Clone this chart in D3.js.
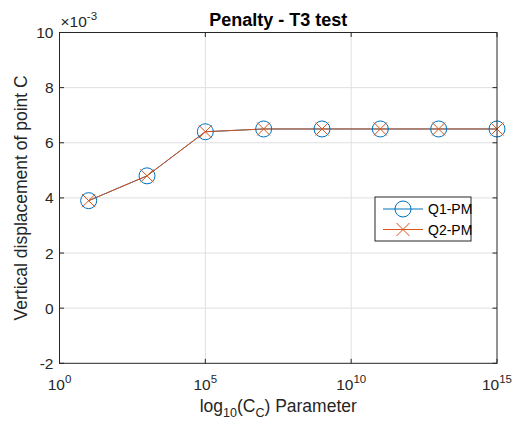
<!DOCTYPE html>
<html>
<head>
<meta charset="utf-8">
<script src="https://cdn.jsdelivr.net/npm/d3@7"></script>
<style>
  body { margin: 0; background: #fff; }
  text { font-family: "Liberation Sans", Arial, Helvetica, sans-serif; }
</style>
</head>
<body>
<div id="chart"></div>
<script>
// data (y values are in units of 1e-3)
const penaltyParams = [1e1, 1e3, 1e5, 1e7, 1e9, 1e11, 1e13, 1e15];
const q1Disp = [3.9, 4.8, 6.4, 6.5, 6.5, 6.5, 6.5, 6.5];
const q2Disp = [3.9, 4.8, 6.4, 6.5, 6.5, 6.5, 6.5, 6.5];
const xTicks = [1e0, 1e5, 1e10, 1e15];
const yTicks = [-2, 0, 2, 4, 6, 8, 10];
const seriesNames = ["Q1-PM", "Q2-PM"];

const width = 519, height = 423;
const margin = { left: 59.5, right: 22, top: 32.5, bottom: 60 };
const blue = "#0072BD", orange = "#D95319", axisColor = "#262626";
const tickFont = 15.5, labelFont = 17.5;

const svg = d3.select("#chart").append("svg")
  .attr("width", width)
  .attr("height", height);

const x = d3.scaleLog().domain([1e0, 1e15]).range([margin.left, width - margin.right]);
const y = d3.scaleLinear().domain([-2, 10]).range([height - margin.bottom + 0.5 - 0.2, margin.top]);

const x0 = x.range()[0], x1 = x.range()[1];
const y0 = y.range()[0], y1 = y.range()[1];

// grid
const grid = svg.append("g").attr("stroke", "#dfdfdf").attr("stroke-width", 1);
grid.selectAll(".gx").data(xTicks.slice(1, -1)).enter().append("line")
  .attr("x1", d => x(d)).attr("x2", d => x(d))
  .attr("y1", y0).attr("y2", y1);
grid.selectAll(".gy").data(yTicks.slice(1, -1)).enter().append("line")
  .attr("x1", x0).attr("x2", x1)
  .attr("y1", d => y(d)).attr("y2", d => y(d));

// series
const line = d3.line().x((d, i) => x(penaltyParams[i])).y(d => y(d));
svg.append("path").datum(q1Disp)
  .attr("fill", "none").attr("stroke", blue).attr("stroke-width", 1).attr("d", line);
svg.append("path").datum(q2Disp)
  .attr("fill", "none").attr("stroke", orange).attr("stroke-width", 1).attr("d", line);

svg.selectAll(".m1").data(q1Disp).enter().append("circle")
  .attr("cx", (d, i) => x(penaltyParams[i]))
  .attr("cy", d => y(d))
  .attr("r", 8)
  .attr("fill", "none").attr("stroke", blue).attr("stroke-width", 1);

function crossPath(cx, cy, s) {
  return `M${cx - s},${cy - s}L${cx + s},${cy + s}M${cx - s},${cy + s}L${cx + s},${cy - s}`;
}
svg.selectAll(".m2").data(q2Disp).enter().append("path")
  .attr("d", (d, i) => crossPath(x(penaltyParams[i]), y(d), 6.5))
  .attr("fill", "none").attr("stroke", orange).attr("stroke-width", 1);

// axes box + ticks
const ax = svg.append("g").attr("stroke", axisColor).attr("stroke-width", 1).attr("fill", "none");
ax.append("rect").attr("x", x0).attr("y", y1).attr("width", x1 - x0).attr("height", y0 - y1);
const tl = 4.5;
xTicks.forEach(t => {
  ax.append("line").attr("x1", x(t)).attr("x2", x(t)).attr("y1", y0).attr("y2", y0 - tl);
  ax.append("line").attr("x1", x(t)).attr("x2", x(t)).attr("y1", y1).attr("y2", y1 + tl);
});
yTicks.forEach(t => {
  ax.append("line").attr("x1", x0).attr("x2", x0 + tl).attr("y1", y(t)).attr("y2", y(t));
  ax.append("line").attr("x1", x1).attr("x2", x1 - tl).attr("y1", y(t)).attr("y2", y(t));
});

// tick labels
svg.selectAll(".yl").data(yTicks).enter().append("text")
  .attr("x", x0 - 6).attr("y", d => y(d)).attr("dy", "0.36em")
  .attr("text-anchor", "end").attr("font-size", tickFont).attr("fill", axisColor)
  .text(d => d);

const xl = svg.selectAll(".xl").data(xTicks).enter().append("text")
  .attr("x", d => x(d)).attr("y", y0 + 27)
  .attr("text-anchor", "middle").attr("font-size", tickFont).attr("fill", axisColor);
xl.append("tspan").text("10");
xl.append("tspan").attr("dy", -7).attr("font-size", 11.5).text(d => Math.round(Math.log10(d)));

// exponent label
const ex = svg.append("text").attr("x", x0 + 1).attr("y", y1 - 6)
  .attr("font-size", tickFont).attr("fill", axisColor);
ex.append("tspan").text("\u00d710");
ex.append("tspan").attr("dy", -7).attr("font-size", 11.5).text("-3");

// title
svg.append("text").attr("x", (x0 + x1) / 2).attr("y", y1 - 7)
  .attr("text-anchor", "middle").attr("font-size", 18).attr("font-weight", "bold")
  .attr("fill", "#000").text("Penalty - T3 test");

// axis labels
const xlab = svg.append("text").attr("x", (x0 + x1) / 2).attr("y", y0 + 48.5)
  .attr("text-anchor", "middle").attr("font-size", labelFont).attr("fill", axisColor);
xlab.append("tspan").text("log");
xlab.append("tspan").attr("dy", 5).attr("font-size", 12.5).text("10");
xlab.append("tspan").attr("dy", -5).text("(C");
xlab.append("tspan").attr("dy", 5).attr("font-size", 12.5).text("C");
xlab.append("tspan").attr("dy", -5).text(") Parameter");

svg.append("text")
  .attr("transform", `translate(27,${(y0 + y1) / 2}) rotate(-90)`)
  .attr("text-anchor", "middle").attr("font-size", labelFont).attr("fill", axisColor)
  .text("Vertical displacement of point C");

// legend
const lg = svg.append("g").attr("transform", "translate(375,197)");
lg.append("rect").attr("width", 96).attr("height", 44)
  .attr("fill", "#fff").attr("stroke", axisColor).attr("stroke-width", 1);
const colors = [blue, orange];
seriesNames.forEach((name, i) => {
  const ly = 12 + i * 20.5;
  lg.append("line").attr("x1", 8).attr("x2", 48).attr("y1", ly).attr("y2", ly)
    .attr("stroke", colors[i]).attr("stroke-width", 1);
  if (i === 0) {
    lg.append("circle").attr("cx", 28).attr("cy", ly).attr("r", 8)
      .attr("fill", "none").attr("stroke", blue).attr("stroke-width", 1);
  } else {
    lg.append("path").attr("d", crossPath(28, ly, 6.5))
      .attr("fill", "none").attr("stroke", orange).attr("stroke-width", 1);
  }
  lg.append("text").attr("x", 53).attr("y", ly).attr("dy", "0.36em")
    .attr("font-size", 14).attr("fill", "#000").text(name);
});
</script>
</body>
</html>
